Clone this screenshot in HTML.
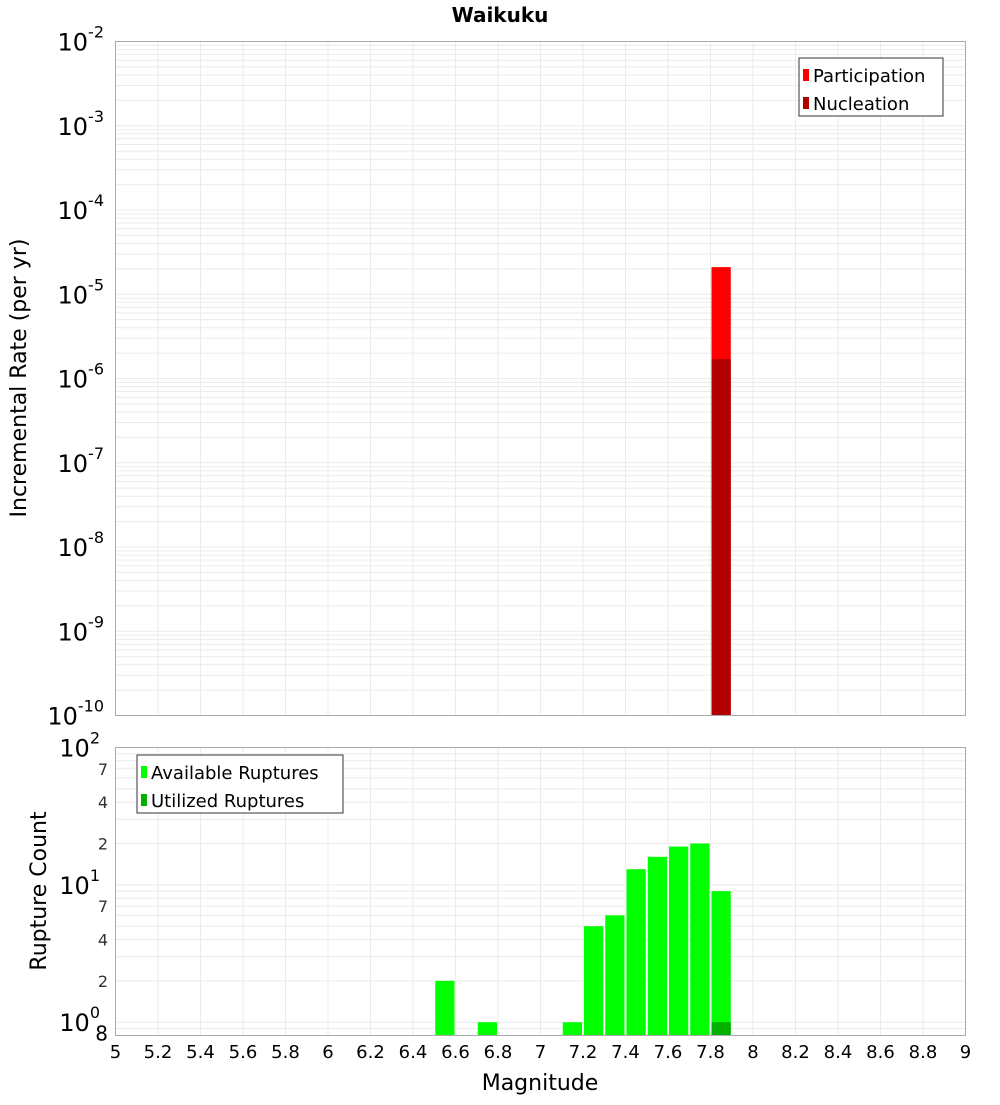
<!DOCTYPE html>
<html><head><meta charset="utf-8"><style>
body{margin:0;background:#fff;font-family:"Liberation Sans","DejaVu Sans",sans-serif}
svg text{font-family:"DejaVu Sans","Liberation Sans",sans-serif}
</style></head><body>
<svg id="chart" width="1000" height="1100" xmlns="http://www.w3.org/2000/svg">
<rect width="1000" height="1100" fill="#fff"/>
<text x="500" y="22" text-anchor="middle" font-weight="bold" font-size="20">Waikuku</text>
<g id="top"></g><g id="bot"></g>
</svg>
<script>
// Data
const binStarts = [6.5, 6.7, 7.1, 7.2, 7.3, 7.4, 7.5, 7.6, 7.7, 7.8];
const availableCounts = [2, 1, 1, 5, 6, 13, 16, 19, 20, 9];
const utilizedBins = [7.8];
const utilizedCounts = [1];
const rateBins = [7.8];
const participationRates = [2.1e-5];
const nucleationRates = [1.7e-6];
const xTicks = [5,5.2,5.4,5.6,5.8,6,6.2,6.4,6.6,6.8,7,7.2,7.4,7.6,7.8,8,8.2,8.4,8.6,8.8,9];
const topDecades = [-2,-3,-4,-5,-6,-7,-8,-9,-10];
const botMinorLabels = [7,4,2];

const NS="http://www.w3.org/2000/svg";
const svg=document.getElementById('chart');
function mk(tag,attrs,parent,txt){const e=document.createElementNS(NS,tag);for(const k in attrs)e.setAttribute(k,attrs[k]);if(txt!==undefined)e.textContent=txt;(parent||svg).appendChild(e);return e;}
const L=115.5,R=965.5;
const xs=m=>L+(m-5)/4*(R-L);
// top axes
const tT=41.5,tB=715.5;
const yTop=v=>tT+(-2-Math.log10(v))/8*(tB-tT);
// bottom axes
const bT=747.5,bB=1035.5,bMin=0.8,bMax=100;
const yBot=v=>bT+(Math.log10(bMax)-Math.log10(v))/(Math.log10(bMax)-Math.log10(bMin))*(bB-bT);

function grid(yf,lo,hi,y0,y1){
  for(let d=lo;d<hi;d++)for(let k=1;k<10;k++){const v=k*Math.pow(10,d);const y=yf(v);if(y<y0-0.5||y>y1+0.5)continue;
    const g=mk('line',{x1:L,x2:R,y1:y,y2:y,stroke:'#ebebeb','stroke-width':1});
    }
  xTicks.forEach(t=>{const x=xs(t);const g=mk('line',{x1:x,x2:x,y1:y0,y2:y1,stroke:'#ebebeb','stroke-width':1});
    });
}
grid(yTop,-10,-2,tT,tB);
grid(yBot,-1,2,bT,bB);

// top bars
rateBins.forEach((b,i)=>{
  const x0=xs(b)+1,x1=xs(b+0.1)-1;
  const p=mk('rect',{x:x0,y:yTop(participationRates[i]),width:x1-x0,height:tB-yTop(participationRates[i]),fill:'#ff0000'});
  
  const n=mk('rect',{x:x0,y:yTop(nucleationRates[i]),width:x1-x0,height:tB-yTop(nucleationRates[i]),fill:'#b00000'});
  
});
// bottom bars
binStarts.forEach((b,i)=>{
  const x0=xs(b)+1,x1=xs(b+0.1)-1;const y=yBot(availableCounts[i]);
  const r=mk('rect',{x:x0,y:y,width:x1-x0,height:bB-y,fill:'#00ff00'});
  
});
utilizedBins.forEach((b,i)=>{
  const x0=xs(b)+1,x1=xs(b+0.1)-1;const y=yBot(utilizedCounts[i]);
  const r=mk('rect',{x:x0,y:y,width:x1-x0,height:bB-y,fill:'#00b000'});
  
});
// frames
let f=mk('rect',{x:L,y:tT,width:R-L,height:tB-tT,fill:'none',stroke:'#aaa'});

f=mk('rect',{x:L,y:bT,width:R-L,height:bB-bT,fill:'none',stroke:'#aaa'});


// top y labels
topDecades.forEach(d=>{const y=yTop(Math.pow(10,d));
  const t=mk('text',{x:104,y:y+9,'text-anchor':'end','font-size':24});
  
  t.textContent='10';
  const s=mk('tspan',{dy:-13,'font-size':16},t,String(d).replace('-','-'));
});
// bottom y labels
[[100,'2'],[10,'1'],[1,'0']].forEach(([v,e])=>{const y=yBot(v);
  const t=mk('text',{x:100,y:y+9,'text-anchor':'end','font-size':24});
  
  t.textContent='10';mk('tspan',{dy:-13,'font-size':16},t,e);});
[1,10].forEach(dec=>botMinorLabels.forEach(k=>{const y=yBot(k*dec);
  const t=mk('text',{x:108,y:y+6,'text-anchor':'end','font-size':16,fill:'#333'},svg,String(k));
  }));
let t8=mk('text',{x:108,y:yBot(0.8)+5,'text-anchor':'end','font-size':20},svg,'8');

// x ticks
xTicks.forEach(v=>{const t=mk('text',{x:xs(v),y:1058,'text-anchor':'middle','font-size':18},svg,String(v));
  });
let xt=mk('text',{x:540,y:1090,'text-anchor':'middle','font-size':22},svg,'Magnitude');

let yt=mk('text',{x:0,y:0,'text-anchor':'middle','font-size':22,transform:'translate(26,378) rotate(-90)'},svg,'Incremental Rate (per yr)');

yt=mk('text',{x:0,y:0,'text-anchor':'middle','font-size':22,transform:'translate(46,891) rotate(-90)'},svg,'Rupture Count');


// legends
function legend(x,y,w,items,name){
  const g=mk('g',{});
  mk('rect',{x:x,y:y,width:w,height:58,fill:'#fff',stroke:'#333'},g);
  items.forEach(([c,l],i)=>{mk('rect',{x:x+4,y:y+11+i*28,width:6,height:12,fill:c},g);
    const t=mk('text',{x:x+14,y:y+24+i*28,'font-size':18},g,l);
    });
}
legend(799,58,144,[['#ff0000','Participation'],['#b00000','Nucleation']],'top-legend');
legend(137,755,206,[['#00ff00','Available Ruptures'],['#00b000','Utilized Ruptures']],'bottom-legend');
</script>
</body></html>
